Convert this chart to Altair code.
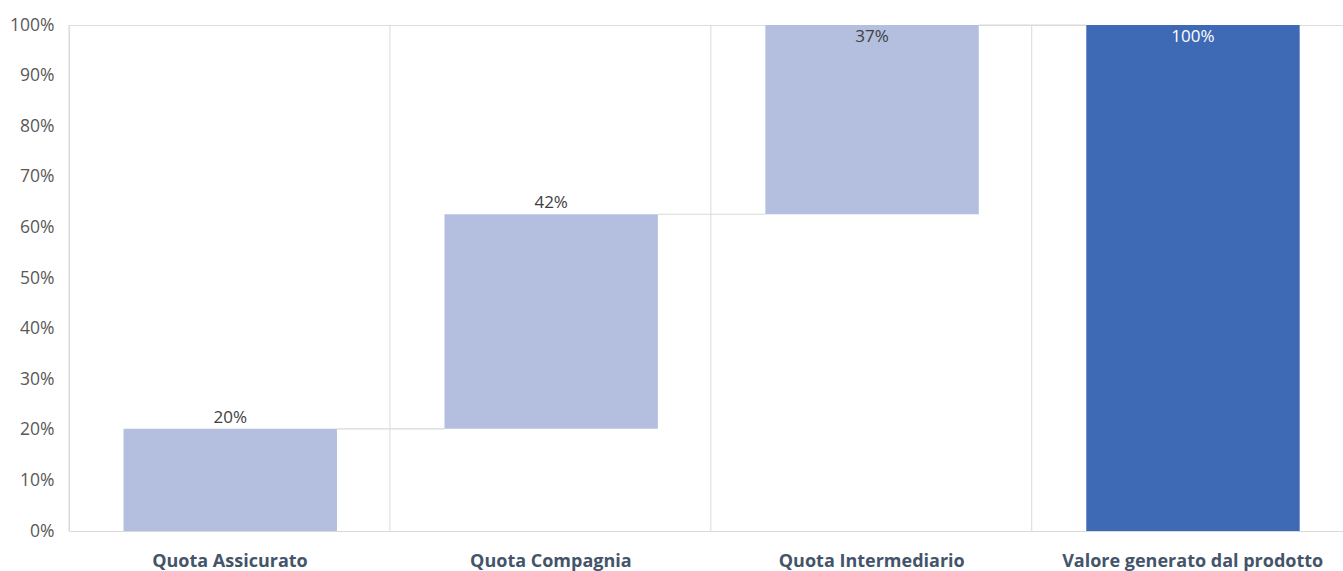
import altair as alt
import pandas as pd

categories = ["Quota Assicurato", "Quota Compagnia", "Quota Intermediario", "Valore generato dal prodotto"]
values = [0.202, 0.424, 0.374, 1.0]
is_total = [False, False, False, True]

LIGHT = "#b4bfdf"
DARK = "#3e69b5"
GRID = "#d9d9d9"
FONT = "Open Sans"

rows = []
cum = 0.0
for i, (c, v, t) in enumerate(zip(categories, values, is_total)):
    if t:
        start, end = 0.0, v
    else:
        start, end = cum, cum + v
        cum = end
    rows.append(dict(cat=c, idx=i, x0=i + 0.17, x1=i + 0.835, start=start, end=end,
                     label=f"{round(v * 100):.0f}%", total=t, inside=end > 0.9))
df = pd.DataFrame(rows)

conn = pd.DataFrame([
    dict(x0=rows[i]["x1"], x1=rows[i + 1]["x0"], y=rows[i]["end"])
    for i in range(len(rows) - 1)
])
grid = pd.DataFrame({"x": list(range(len(categories)))})

W, H = 1274, 506
xscale = alt.Scale(domain=[0, 3.97], nice=False, zero=False)
yscale = alt.Scale(domain=[0, 1], nice=False)

label_arr = "[" + ",".join("'" + c + "'" for c in categories) + "]"

bars = alt.Chart(df).mark_bar(cornerRadius=0).encode(
    x=alt.X("x0:Q", scale=xscale,
            axis=alt.Axis(values=[i + 0.5 for i in range(len(categories))],
                          labelExpr=label_arr + "[floor(datum.value)]",
                          title=None, grid=False, ticks=False, domain=True,
                          domainColor=GRID, domainWidth=1, labelOverlap=False,
                          labelLimit=500,
                          labelFont=FONT, labelFontSize=18, labelFontWeight="bold",
                          labelColor="#44546a", labelPadding=21)),
    x2="x1:Q",
    y=alt.Y("start:Q", scale=yscale,
            axis=alt.Axis(format=".0%", values=[i / 10 for i in range(11)], title=None,
                          grid=False, ticks=False, domain=False, labelFont=FONT,
                          labelFontSize=17.5, labelColor="#595959", labelPadding=15)),
    y2="end:Q",
    color=alt.condition(alt.datum.total, alt.value(DARK), alt.value(LIGHT)),
)

gridlines = alt.Chart(grid).mark_rule(color=GRID, strokeWidth=1).encode(
    x=alt.X("x:Q", scale=xscale),
    y=alt.value(0), y2=alt.value(H),
)

connectors = alt.Chart(conn).mark_rule(color=GRID, strokeWidth=1.2).encode(
    x=alt.X("x0:Q", scale=xscale), x2="x1:Q", y=alt.Y("y:Q", scale=yscale),
)

mid = alt.Chart(df).transform_calculate(xm="(datum.x0 + datum.x1) / 2")

text_above = mid.transform_filter("!datum.inside").mark_text(
    baseline="bottom", dy=-2, font=FONT, fontSize=17, color="#404040"
).encode(x=alt.X("xm:Q", scale=xscale), y=alt.Y("end:Q", scale=yscale), text="label:N")

text_inside = mid.transform_filter("datum.inside").mark_text(
    baseline="top", dy=4, font=FONT, fontSize=17
).encode(
    x=alt.X("xm:Q", scale=xscale), y=alt.Y("end:Q", scale=yscale), text="label:N",
    color=alt.condition(alt.datum.total, alt.value("#ffffff"), alt.value("#404040")),
)

chart = alt.layer(bars, gridlines, connectors, text_above, text_inside).properties(
    width=W, height=H,
    autosize=alt.AutoSizeParams(type="none"),
    padding={"left": 69, "top": 25, "right": 0, "bottom": 40},
).configure_view(stroke=None).configure(background="white")

chart.save("out.html", embed_options={"renderer": "svg", "actions": False})
